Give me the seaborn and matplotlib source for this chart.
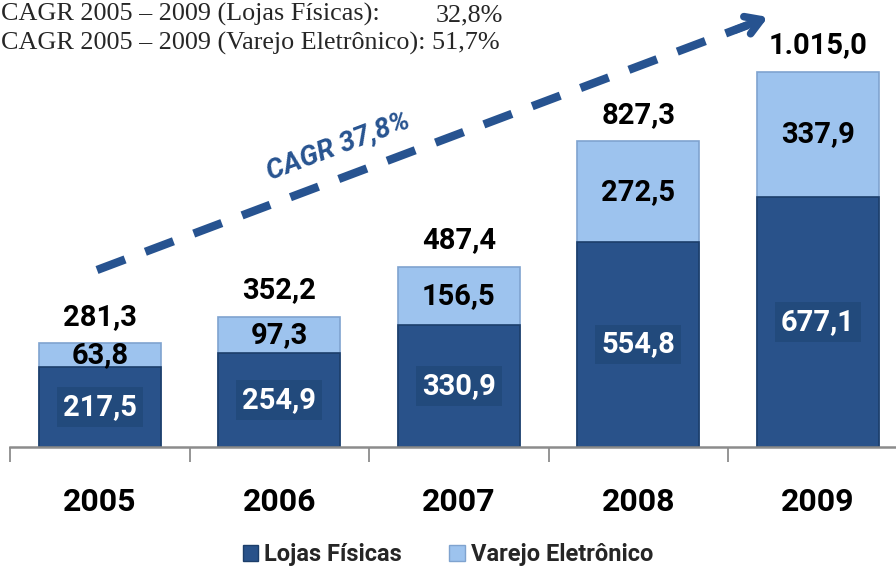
import matplotlib
matplotlib.use("Agg")
import matplotlib.pyplot as plt
import seaborn as sns
import pandas as pd
import numpy as np
from matplotlib.patches import Patch

# ---- data ----
years = ["2005", "2006", "2007", "2008", "2009"]
lojas_fisicas = [217.5, 254.9, 330.9, 554.8, 677.1]
varejo_eletronico = [63.8, 97.3, 156.5, 272.5, 337.9]
totais = [281.3, 352.2, 487.4, 827.3, 1015.0]
header_lines = ["CAGR 2005 \u2013 2009 (Lojas F\u00edsicas):", "CAGR 2005 \u2013 2009 (Varejo Eletr\u00f4nico): 51,7%"]
header_val1 = "32,8%"
cagr_label = "CAGR 37,8%"
series_names = ["Lojas F\u00edsicas", "Varejo Eletr\u00f4nico"]

DARK = "#29528A"
LIGHT = "#9DC3EE"
BOXC = "#224A7C"
ARROWC = "#275390"
SANS = ["Roboto", "DejaVu Sans"]

def fmt(v):
    s = f"{v:,.1f}"
    return s.replace(",", "X").replace(".", ",").replace("X", ".")

sns.set_theme(style="white")
plt.rcParams["font.family"] = SANS

df = pd.DataFrame({"ano": years, "lojas": lojas_fisicas, "varejo": varejo_eletronico, "total": totais})

W, H = 896, 569
fig = plt.figure(figsize=(W / 100, H / 100), dpi=100)
ax = fig.add_axes([10 / W, 122 / H, 897.5 / W, 406.5 / H])

sns.barplot(data=df, x="ano", y="total", color=LIGHT, width=0.68, saturation=1,
            edgecolor="#7FA3CF", linewidth=1.2, ax=ax)
sns.barplot(data=df, x="ano", y="lojas", color=DARK, width=0.68, saturation=1,
            edgecolor="#1C3E6A", linewidth=1.2, ax=ax)

ax.set_xlim(-0.5, 4.5)
ax.set_ylim(0, 1100)
ax.set_xlabel("")
ax.set_ylabel("")
ax.set_yticks([])
for s in ["left", "right", "top"]:
    ax.spines[s].set_visible(False)
ax.spines["bottom"].set_color("#8C8C8C")
ax.spines["bottom"].set_linewidth(1.8)
ax.set_xticks(np.arange(-0.5, 5, 1.0), minor=True)
ax.tick_params(axis="x", which="minor", length=11, width=1.3, color="#8C8C8C", bottom=True)
ax.tick_params(axis="x", which="major", length=0, pad=29, labelsize=23)
for t in ax.get_xticklabels():
    t.set_fontweight("bold")
    t.set_color("#000000")

for i in range(len(years)):
    lo, va_, tot = lojas_fisicas[i], varejo_eletronico[i], totais[i]
    ax.text(i, lo / 2, fmt(lo), ha="center", va="center", fontsize=21, fontweight="bold",
            color="white", bbox=dict(boxstyle="square,pad=0.2", fc=BOXC, ec="none"))
    ax.text(i, lo + va_ / 2, fmt(va_), ha="center", va="center", fontsize=21,
            fontweight="bold", color="black")
    ax.annotate(fmt(tot), (i, tot), xytext=(0, 19), textcoords="offset points",
                ha="center", va="center", fontsize=21, fontweight="bold", color="black")

# dashed CAGR arrow (figure pixel space)
ax2 = fig.add_axes([0, 0, 1, 1], facecolor="none")
ax2.set_xlim(0, W); ax2.set_ylim(H, 0); ax2.axis("off")
ax2.plot([97, 748], [270, 25], color=ARROWC, lw=6, linestyle=(0, (3.6, 2.6)),
         dash_capstyle="butt")
ax2.annotate("", xy=(768, 17), xytext=(735, 30),
             arrowprops=dict(arrowstyle="->,head_length=0.9,head_width=0.55", lw=5.5,
                             color=ARROWC, shrinkA=0, shrinkB=0))
ang = np.degrees(np.arctan2(270 - 25, 748 - 97))
ax2.text(338, 146, cagr_label, rotation=ang, ha="center", va="center", fontsize=20,
         fontweight="bold", fontstyle="italic", color=ARROWC, rotation_mode="anchor")

# header text
SERIF = ["Liberation Serif", "DejaVu Serif"]
fig.text(1 / W, 1 - 21 / H, header_lines[0], family=SERIF, fontsize=18.8, va="baseline", ha="left")
fig.text(503 / W, 1 - 21 / H, header_val1, family=SERIF, fontsize=18.8, va="baseline", ha="right")
fig.text(1 / W, 1 - 50 / H, header_lines[1], family=SERIF, fontsize=18.8, va="baseline", ha="left")

handles = [Patch(facecolor=DARK, edgecolor="#1C3E6A"), Patch(facecolor=LIGHT, edgecolor="#7FA3CF")]
fig.legend(handles, series_names, loc="center", bbox_to_anchor=(0.5, 1 - 555 / H), ncol=2,
           frameon=False, prop=dict(family=SANS, weight="bold", size=17),
           handlelength=0.65, handleheight=0.65, handletextpad=0.25, columnspacing=2.0)

fig.savefig("out.png", dpi=100)
